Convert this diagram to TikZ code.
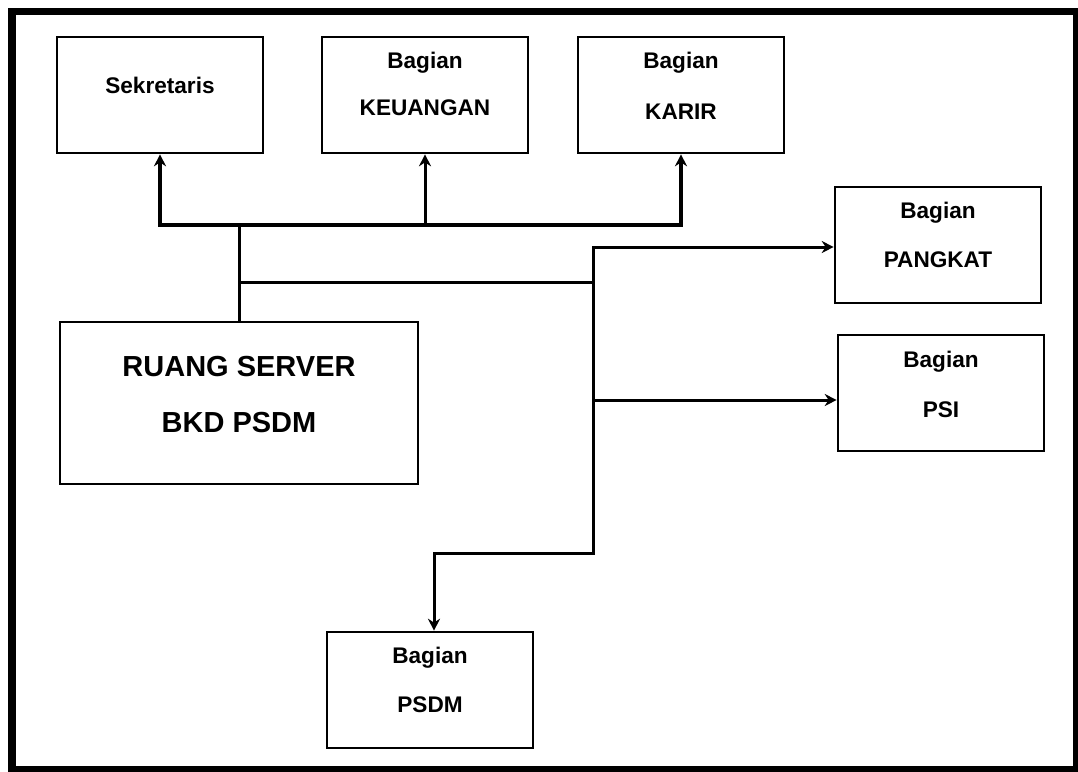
\documentclass[tikz,border=0pt]{standalone}
\usepackage{fontspec}
\setmainfont{Liberation Sans}
\usetikzlibrary{arrows.meta, positioning}
\tikzstyle{unit} = [draw, line width=1.3pt, fill=white, rectangle, minimum width=103pt, minimum height=58pt, inner sep=0pt]
\tikzstyle{lbl} = [font=\fontsize{11.3}{13}\selectfont\bfseries, inner sep=0pt]

\begin{document}
\begin{tikzpicture}[x=0.5pt, y=-0.5pt, >={Stealth[length=6pt,width=6pt]}, line width=1.5pt]
  \useasboundingbox (0,0) rectangle (1078,772);
  \draw[line width=3.8pt] (12,11.5) rectangle (1077,770);
  % boxes
  \node[unit] (sek) at (160,95) {};
  \node[unit] (keu) at (425,95) {};
  \node[unit] (kar) at (681,95) {};
  \node[unit] (pang) at (938,245) {};
  \node[unit] (psi) at (941,393) {};
  \node[unit, minimum width=179pt, minimum height=81pt] (srv) at (239,403) {};
  \node[unit] (psdm) at (430,690) {};
  % texts
  \node[lbl] (sek-a) at (160,85) {Sekretaris};
  \node[lbl] (keu-a) at (425,63) {Bagian};
  \node[lbl] (keu-b) at (425,108) {KEUANGAN};
  \node[lbl] (kar-a) at (681,63) {Bagian};
  \node[lbl] (kar-b) at (681,112) {KARIR};
  \node[lbl] (pang-a) at (938,213) {Bagian};
  \node[lbl] (pang-b) at (938,260) {PANGKAT};
  \node[lbl] (psi-a) at (941,362) {Bagian};
  \node[lbl] (psi-b) at (941,410) {PSI};
  \node[lbl, font=\fontsize{14.5}{16}\selectfont\bfseries] (srv-a) at (239,367) {RUANG SERVER};
  \node[lbl, font=\fontsize{14.5}{16}\selectfont\bfseries] (srv-b) at (239,423) {BKD PSDM};
  \node[lbl] (psdm-a) at (430,658) {Bagian};
  \node[lbl] (psdm-b) at (430,705) {PSDM};
  % junctions
  \coordinate (bus) at (239,225);
  \coordinate (mid) at (593,282);
  \coordinate (top) at (593,247);
  \coordinate (tap) at (593,400);
  \coordinate (bot) at (593,553);
  % lines
  \draw (srv.north) -- (bus);
  \draw[<->, line width=2pt] (sek.south) -- (sek.south |- bus) -- (kar.south |- bus) -- (kar.south);
  \draw[->] (keu.south |- bus) -- (keu.south);
  \draw (srv.north |- mid) -- (mid);
  \draw[<->] (top -| pang.west) -- (top) -- (bot) -| ([xshift=2pt]psdm.north);
  \draw[->] (tap) -- (tap -| psi.west);
\end{tikzpicture}
\end{document}
